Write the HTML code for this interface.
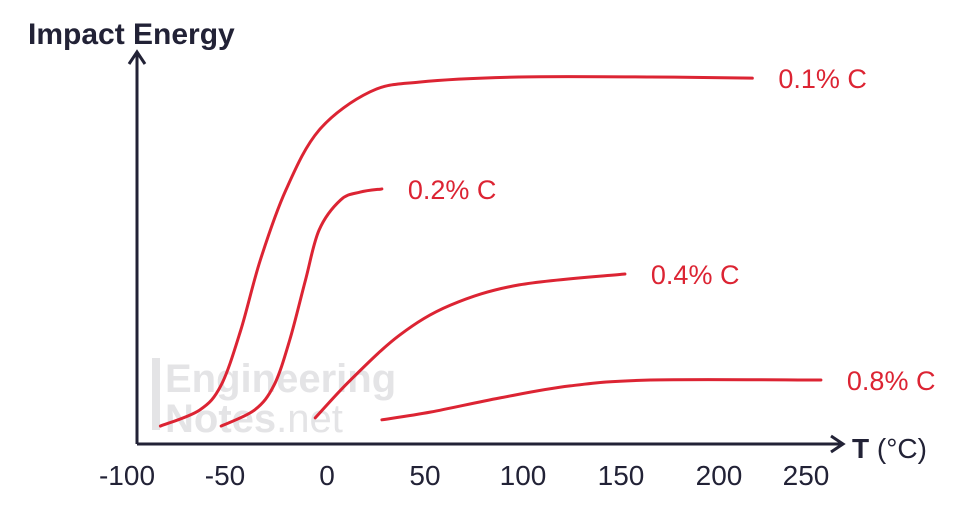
<!DOCTYPE html>
<html><head><meta charset="utf-8"><style>
body{margin:0;background:#fff;}
svg{display:block;font-family:"Liberation Sans",sans-serif;}
</style></head><body>
<svg id="chart" width="980" height="510" viewBox="0 0 980 510">
<g fill="#e4e4e6" font-weight="bold" font-size="40">
<rect x="152" y="358" width="8" height="72" fill="#e4e4e6"/>
<text x="165" y="392">Engineering</text>
<text x="165" y="432">Notes<tspan font-weight="normal">.net</tspan></text>
</g>
<text x="28" y="44" font-size="30" font-weight="bold" fill="#222236">Impact Energy</text>
<line x1="137" y1="444" x2="137" y2="54" stroke="#222236" stroke-width="3"/>
<polyline points="129,64 137,52 145,64" fill="none" stroke="#222236" stroke-width="3"/>
<line x1="137" y1="444" x2="842" y2="444" stroke="#222236" stroke-width="3"/>
<polyline points="831,436 843,444 831,452" fill="none" stroke="#222236" stroke-width="3"/>
<text x="852" y="458" font-size="28" fill="#222236"><tspan font-weight="bold">T</tspan> (°C)</text>
<g id="ticks"></g>
<g id="series"></g>
</svg>
<script>
const tickLabels=[-100,-50,0,50,100,150,200,250];
const seriesNames=["0.1% C","0.2% C","0.4% C","0.8% C"];
const t1=[-85,-65,-54,-44,-34,-21,-4,22,47,98,165,217];
const e1=[4.6,8.7,15.1,29.2,47.2,65.1,80.5,90.3,92.8,94.1,94.1,93.8];
const t2=[-54,-37,-27,-19,-11,-4,7,17,28];
const e2=[4.6,8.7,15.1,26.7,42,54.9,62.6,64.6,65.4];
const t4=[-6,12,37,63,98,152];
const e4=[6.7,16.4,27.9,35.6,40.8,43.6];
const t8=[28,53,88,124,165,252];
const e8=[6.2,8.2,11.8,14.9,16.4,16.4];
const X=t=>327+t*1.96, Y=v=>444-v*3.9;
const NS="http://www.w3.org/2000/svg";
const tg=document.getElementById('ticks');
tickLabels.forEach(t=>{const el=document.createElementNS(NS,'text');
let x=X(t)-(t<0?4:0); if(t===250) x=806;
el.setAttribute('x',x);el.setAttribute('y',485);el.setAttribute('text-anchor','middle');
el.setAttribute('font-size','28');el.setAttribute('fill','#222236');el.textContent=t;


tg.appendChild(el);});
function path(ts,es){const p=ts.map((t,i)=>[X(t),Y(es[i])]);let d=`M${p[0][0]},${p[0][1]}`;
for(let i=0;i<p.length-1;i++){const a=p[Math.max(0,i-1)],b=p[i],c=p[i+1],e=p[Math.min(p.length-1,i+2)];
d+=` C${b[0]+(c[0]-a[0])/6},${b[1]+(c[1]-a[1])/6} ${c[0]-(e[0]-b[0])/6},${c[1]-(e[1]-b[1])/6} ${c[0]},${c[1]}`;}return d;}
const sg=document.getElementById('series');
[[t1,e1],[t2,e2],[t4,e4],[t8,e8]].forEach(([ts,es],i)=>{
const pa=document.createElementNS(NS,'path');pa.setAttribute('d',path(ts,es));
pa.setAttribute('fill','none');pa.setAttribute('stroke','#dc2433');pa.setAttribute('stroke-width','3');pa.setAttribute('stroke-linecap','round');


sg.appendChild(pa);
const tx=document.createElementNS(NS,'text');const n=ts.length-1;
tx.setAttribute('x',X(ts[n])+26);tx.setAttribute('y',Y(es[n])+10);tx.setAttribute('font-size','27');tx.setAttribute('fill','#dc2433');
tx.textContent=seriesNames[i];


sg.appendChild(tx);});
</script>
</body></html>
